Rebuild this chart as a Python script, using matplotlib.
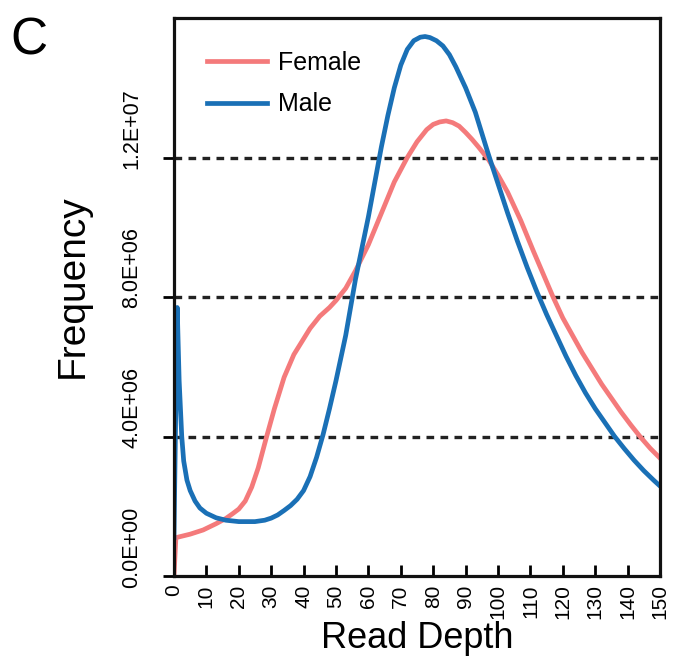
import numpy as np
import matplotlib
matplotlib.use('Agg')
import matplotlib.pyplot as plt
import matplotlib.transforms as mtransforms

plt.rcParams['font.family'] = ['Liberation Sans', 'DejaVu Sans']

# read depth (x) and frequency (y, in millions)
female_x = [0, 0.6, 5, 9, 13, 16, 18, 20, 22, 24, 26, 28.6, 31, 34, 37, 40, 42, 45,
            48, 50, 53, 56, 60, 64, 68, 72, 75, 78, 80, 82, 84, 86, 88, 90, 92, 94,
            97, 100, 103, 107, 111, 114, 117, 120, 123, 126, 129, 132, 135, 138, 141,
            144, 147, 150]
female_y = [0.0, 1.1, 1.2, 1.32, 1.5, 1.65, 1.78, 1.92, 2.15, 2.55, 3.1, 4.0, 4.8,
            5.7, 6.35, 6.8, 7.1, 7.45, 7.7, 7.9, 8.25, 8.75, 9.5, 10.4, 11.3, 12.0,
            12.45, 12.8, 12.95, 13.02, 13.05, 13.0, 12.9, 12.72, 12.52, 12.3, 11.95,
            11.5, 11.0, 10.2, 9.3, 8.65, 8.0, 7.4, 6.9, 6.4, 5.95, 5.5, 5.1, 4.7,
            4.33, 3.98, 3.66, 3.38]

male_x = [0, 1, 1.6, 2.4, 3, 4, 5, 6.5, 8, 10, 13, 16, 20, 25, 28, 30, 32, 34, 36,
          38, 40, 42, 44, 46, 48, 50, 53, 56, 58, 60, 62, 64, 66, 68, 70, 72, 74, 76,
          77.5, 79, 81, 83, 85, 87, 90, 93, 97, 100, 103, 106, 109, 112, 115, 118,
          121, 124, 127, 130, 133, 136, 139, 142, 145, 148, 150]
male_y = [1.1, 7.7, 5.6, 4.0, 3.3, 2.75, 2.45, 2.15, 1.95, 1.8, 1.67, 1.6, 1.56,
          1.56, 1.6, 1.66, 1.75, 1.88, 2.02, 2.2, 2.45, 2.85, 3.4, 4.05, 4.8, 5.6,
          6.9, 8.5, 9.4, 10.3, 11.3, 12.3, 13.2, 14.0, 14.65, 15.1, 15.35, 15.45,
          15.47, 15.44, 15.35, 15.2, 14.95, 14.6, 14.0, 13.3, 12.1, 11.25, 10.4, 9.6,
          8.85, 8.15, 7.5, 6.9, 6.3, 5.75, 5.25, 4.8, 4.4, 4.0, 3.65, 3.32, 3.02,
          2.75, 2.58]

x_ticks = list(range(0, 151, 10))
y_ticks = [0, 4e6, 8e6, 1.2e7]
y_tick_labels = ['0.0E+00', '4.0E+06', '8.0E+06', '1.2E+07']

fig = plt.figure(figsize=(6.73, 6.58), dpi=100)
ax = fig.add_axes([0.2585, 0.1246, 0.7222, 0.848])

ax.plot(female_x, np.array(female_y) * 1e6, color='#f47a7b', lw=3.4, label='Female',
        solid_joinstyle='round')
ax.plot(male_x, np.array(male_y) * 1e6, color='#1a70b6', lw=3.4, label='Male',
        solid_joinstyle='round')

ax.set_xlim(0, 150)
ax.set_ylim(0, 1.6e7)

for yv in y_ticks[1:]:
    ax.axhline(yv, color='#222222', lw=2.4, ls=(0, (2.3, 1.9)), zorder=0)

ax.set_xticks(x_ticks)
ax.set_xticklabels([str(v) for v in x_ticks], rotation=90)
ax.set_yticks(y_ticks)
ax.set_yticklabels(y_tick_labels, rotation=90, va='center')

ax.tick_params(axis='x', direction='in', length=8, width=2, pad=6, labelsize=15)
ax.tick_params(axis='y', direction='out', length=8, width=2, pad=15, labelsize=15.5)

for s in ax.spines.values():
    s.set_linewidth(2.3)
    s.set_color('#111111')

# y tick labels sit above their ticks in the original
offset = mtransforms.ScaledTranslation(0, 0.29, fig.dpi_scale_trans)
for lab in ax.get_yticklabels():
    lab.set_transform(lab.get_transform() + offset)

ax.set_xlabel('Read Depth', fontsize=26, labelpad=1)
ax.set_ylabel('Frequency', fontsize=28)
ax.yaxis.set_label_coords(-0.172, 0.52)

ax.legend(loc='upper left', bbox_to_anchor=(0.068, 0.941), frameon=False,
          fontsize=18, handlelength=2.4, handletextpad=0.45, labelspacing=0.7,
          borderpad=0, borderaxespad=0)

fig.text(0.016, 0.975, 'C', fontsize=37, va='top', ha='left')

fig.savefig('out.png', dpi=100)
